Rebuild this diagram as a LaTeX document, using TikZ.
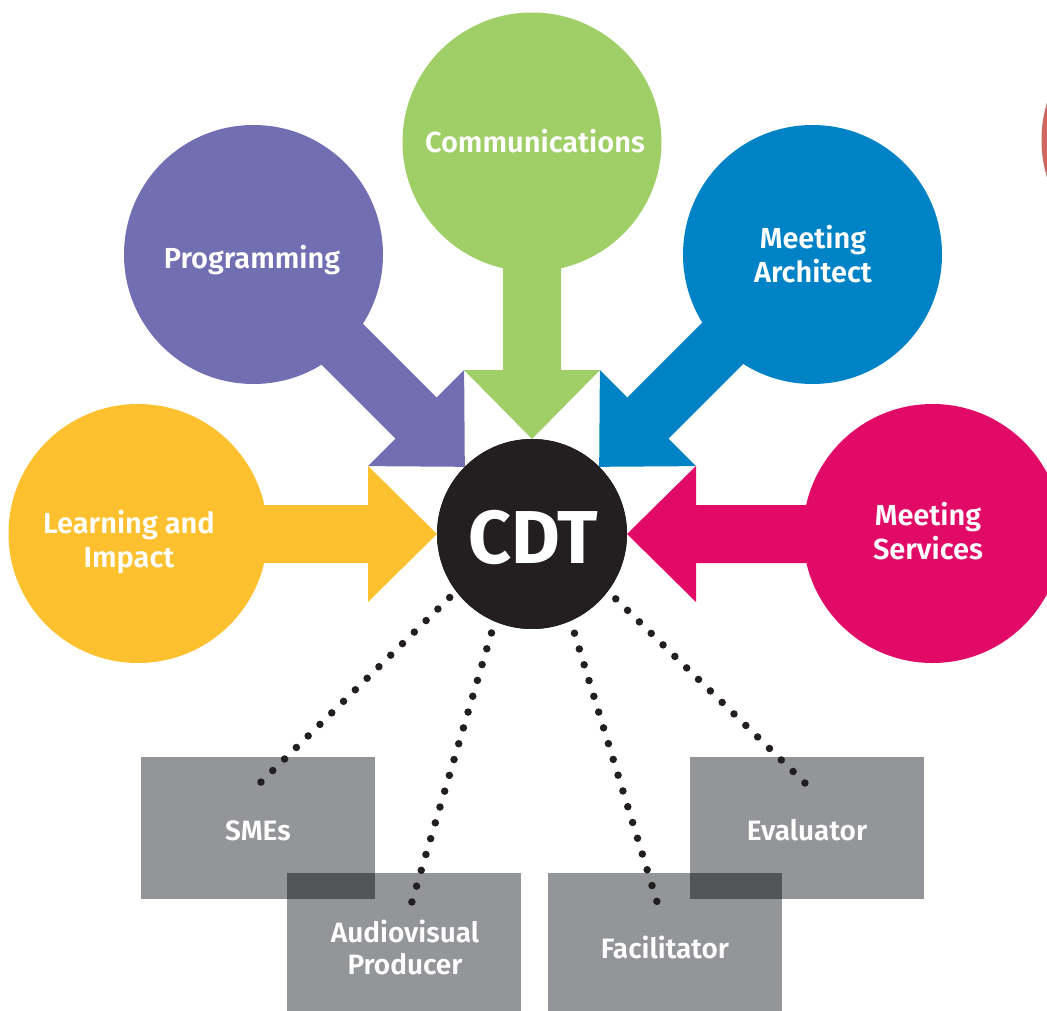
\documentclass[tikz,border=0pt]{standalone}
\usepackage{fontspec}
\setmainfont{Fira Sans}[BoldFont={Fira Sans SemiBold}]
\newfontfamily\heavyfont{Fira Sans Bold}
\definecolor{cpurple}{RGB}{114,110,178}
\definecolor{cgreen}{RGB}{160,206,103}
\definecolor{cblue}{RGB}{0,130,198}
\definecolor{cyellow}{RGB}{253,193,47}
\definecolor{cmagenta}{RGB}{226,10,103}
\definecolor{cdark}{RGB}{35,31,32}
\definecolor{cgray}{RGB}{147,149,152}
\definecolor{coverlap}{RGB}{83,84,88}
\definecolor{cred}{RGB}{205,102,96}
\begin{document}
\begin{tikzpicture}[x=1pt,y=-1pt,
  bubble/.style={circle,inner sep=0pt,outer sep=0pt,minimum size=259pt},
  hub/.style={circle,inner sep=0pt,outer sep=0pt,minimum size=190pt,fill=cdark},
  lbl/.style={text=white,font=\bfseries\fontsize{29}{34}\selectfont,align=center,inner sep=0pt},
  boxlbl/.style={text=white,font=\bfseries\fontsize{28}{32}\selectfont,align=center,inner sep=0pt},
  role/.style={rectangle,inner sep=0pt,outer sep=0pt,fill=cgray,minimum width=234pt,minimum height=142pt},
  dotline/.style={line width=7.5pt,line cap=round,dash pattern=on 0pt off 16.5pt,color=cdark}]
\useasboundingbox (0,0) rectangle (1047,1011);
\clip (0,0) rectangle (1047,1011);

% outer circles
\node[bubble,fill=cred] (red) at (1171,140) {};
\node[bubble,fill=cgreen] (comm) at (532,142) {};
\node[bubble,fill=cpurple] (prog) at (253.5,254.5) {};
\node[bubble,fill=cblue] (arch) at (812.5,254.5) {};
\node[bubble,fill=cyellow] (learn) at (138,533.5) {};
\node[bubble,fill=cmagenta] (serv) at (932.5,533.5) {};

% hub
\node[hub] (cdt) at (532,534) {};

% arrows (tip on the hub border, shaft back to the bubble centre)
\fill[cgreen,shift={(cdt.north)},rotate=-90] (-300,29) -- (-69,29) -- (-69,68) -- (0,0) -- (-69,-68) -- (-69,-29) -- (-300,-29) -- cycle;
\fill[cyellow,shift={(cdt.west)},rotate=0] (-300,29) -- (-69,29) -- (-69,68) -- (0,0) -- (-69,-68) -- (-69,-29) -- (-300,-29) -- cycle;
\fill[cmagenta,shift={(cdt.east)},rotate=180] (-300,29) -- (-69,29) -- (-69,68) -- (0,0) -- (-69,-68) -- (-69,-29) -- (-300,-29) -- cycle;
\fill[cpurple,shift={(cdt.135)},rotate=-45] (-300,29) -- (-69,29) -- (-69,68) -- (0,0) -- (-69,-68) -- (-69,-29) -- (-300,-29) -- cycle;
\fill[cblue,shift={(cdt.45)},rotate=-135] (-300,29) -- (-69,29) -- (-69,68) -- (0,0) -- (-69,-68) -- (-69,-29) -- (-300,-29) -- cycle;

% hub again on top
\node[hub] (cdt2) at (cdt.center) {};
\node[text=white,font=\heavyfont\fontsize{75}{75}\selectfont,inner sep=0pt,anchor=base] (tcdt) at (533,563) {CDT};

% bubble labels
\node[lbl,anchor=base] (tcomm) at (535,153) {Communications};
\node[lbl,anchor=base] (tprog) at (252,269) {Programming};
\node[lbl] (tarch) at (813,254) {Meeting\\Architect};
\node[lbl] (tlearn) at (129,542) {Learning and\\Impact};
\node[lbl] (tserv) at (928,531) {Meeting\\Services};

% role boxes
\node[role] (sme) at (258,828) {};
\node[role] (eval) at (807,828) {};
\node[role] (av) at (404,944) {};
\node[role] (fac) at (665,944) {};
\fill[coverlap] (av.north west) rectangle (sme.south east);
\fill[coverlap] (eval.south west) rectangle (fac.north east);

\node[boxlbl,anchor=base] (tsme) at (258,840) {SMEs};
\node[boxlbl,anchor=base] (teval) at (807,840) {Evaluator};
\node[boxlbl,anchor=base] (tfac) at (665,958) {Facilitator};
\node[boxlbl] (tav) at (405,947) {Audiovisual\\Producer};

% dotted connectors
\coordinate (e1) at (258,785);
\coordinate (e2) at (411,905);
\coordinate (e3) at (658,905);
\coordinate (e4) at (807,785);
\draw[dotline,shorten <=9pt] (cdt.217) -- (e1);
\draw[dotline,shorten <=12pt] (cdt.247.5) -- (e2);
\draw[dotline,shorten <=13pt] (cdt.294.4) -- (e3);
\draw[dotline,shorten <=11pt] (cdt.323.5) -- (e4);
\end{tikzpicture}
\end{document}
